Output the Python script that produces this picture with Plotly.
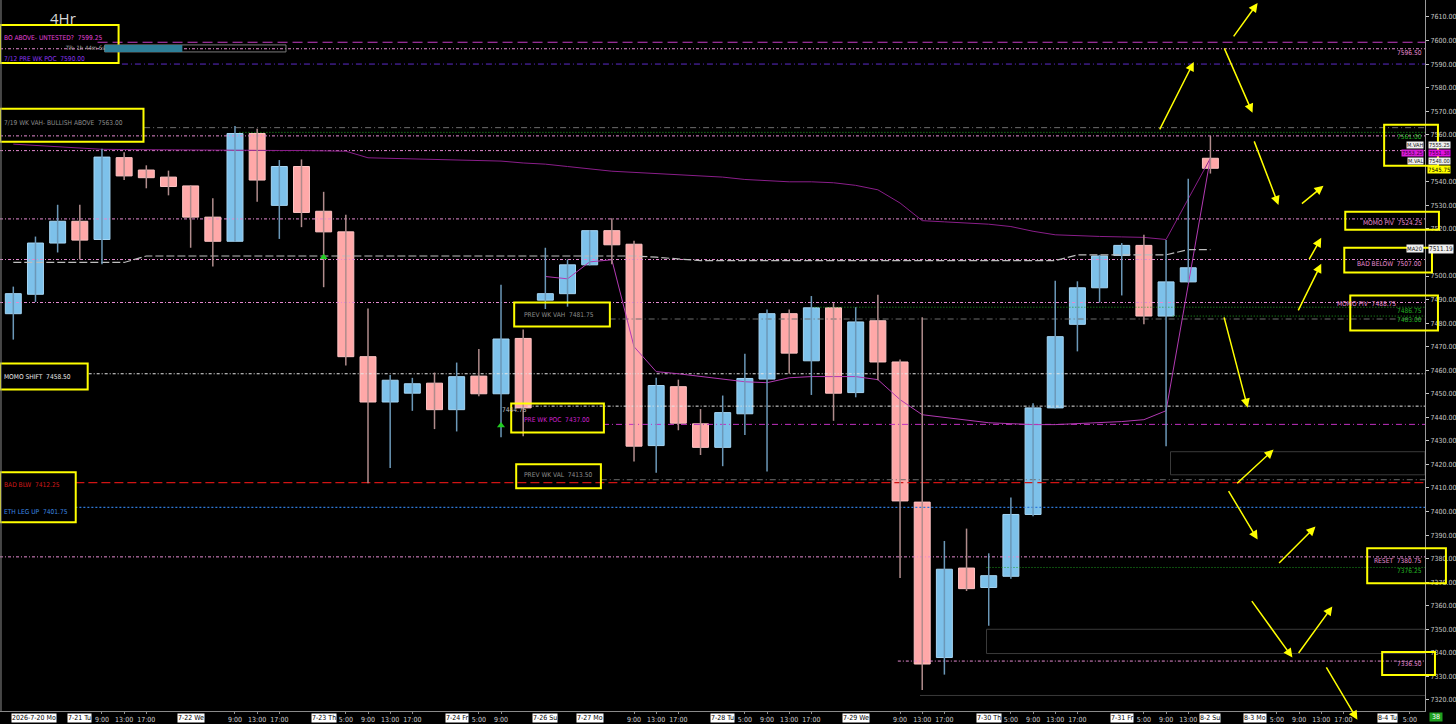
import plotly.graph_objects as go

# ---------------- DATA ----------------
bar_index = list(range(55))
opens = [7484, 7492.25, 7514, 7523.25, 7515.5, 7550.25, 7545, 7542, 7538.25, 7525,
         7514.75, 7560.5, 7530, 7546.5, 7527.5, 7518.75, 7465.75, 7446.5, 7450.25, 7454.5,
         7443.25, 7457.5, 7450, 7473.5, 7489.75, 7492.5, 7504.75, 7519.25, 7513.5, 7428,
         7453, 7437.25, 7427.25, 7441.5, 7456.25, 7484, 7464, 7486.5, 7450.5, 7481,
         7463.5, 7404, 7338, 7376, 7367.75, 7372.5, 7398.75, 7444, 7479.5, 7495,
         7508.75, 7513, 7483, 7497.5, 7550]
highs = [7495.5, 7516.75, 7530.25, 7530.25, 7554, 7552.5, 7547, 7544.75, 7538.5, 7533,
         7563.75, 7562.5, 7549.25, 7549.5, 7535.75, 7526, 7486.25, 7458, 7456.75, 7459,
         7463.25, 7469, 7496.25, 7477.25, 7512, 7507, 7519.5, 7524.5, 7515, 7456.75,
         7456, 7443.5, 7449.25, 7467, 7485.75, 7485.75, 7491.5, 7488.5, 7486.75, 7492,
         7464.5, 7482.5, 7387.5, 7392.75, 7382.25, 7406, 7446, 7498, 7497.75, 7509,
         7514, 7517.5, 7515.25, 7541.25, 7559.5]
lows = [7473, 7489, 7510, 7507, 7505, 7540.75, 7537.25, 7534.25, 7512, 7504,
        7514.5, 7531.5, 7515.75, 7520.75, 7495.25, 7462, 7412, 7418.5, 7442.75, 7435,
        7434, 7449, 7431.5, 7432, 7486, 7487, 7504.5, 7505, 7421.25, 7416.5,
        7434.5, 7424, 7419.25, 7432.5, 7417, 7458.5, 7449.5, 7438.5, 7448.5, 7455.75,
        7371.75, 7324.25, 7330.75, 7366.25, 7351.5, 7371.5, 7398, 7443.75, 7468, 7488.75,
        7491.75, 7479.5, 7427.75, 7497.25, 7543.5]
closes = [7492.5, 7514, 7523.25, 7515.25, 7550.5, 7542.5, 7541.75, 7538, 7525, 7514.75,
          7560.5, 7540.75, 7546.5, 7527, 7518.75, 7465.75, 7446.5, 7455.75, 7454.25, 7443.25,
          7457.25, 7450, 7473.25, 7444, 7492.5, 7504.75, 7519.25, 7513.25, 7427.75, 7453.5,
          7437.5, 7427.25, 7442, 7456.5, 7484, 7467.25, 7486.5, 7450.25, 7480.5, 7463.5,
          7404.5, 7335.25, 7375.5, 7367.25, 7372.75, 7398.75, 7444, 7474.25, 7495, 7508.5,
          7513, 7483, 7497.5, 7503.5, 7545.75]

# developing value line (white dashed)
vwap_line = [7505.75] * 6 + [7508.5] * 23 + [7508, 7507.25] + [7506.5] * 17 + [7509] * 5 + [7511.19, 7511.19]

# weekly band lines (purple)
band_upper = [7556, 7555.5, 7555, 7554.3, 7553.8, 7553.7, 7553.6, 7553.6, 7553.5, 7553.5,
              7553.4, 7553.4, 7553.3, 7553.3, 7553.2, 7553, 7550.2, 7550, 7549.8, 7549.6,
              7549.5, 7549.3, 7548.8, 7548, 7547.5, 7546.5, 7545.5, 7544.5, 7544, 7543.5,
              7543, 7542.5, 7542, 7541, 7540.5, 7540, 7540, 7539.6, 7538.5, 7536.6,
              7531, 7523.5, 7523, 7522.5, 7522, 7521, 7519, 7517.5, 7517, 7516.8,
              7516.6, 7516.4, 7515.5, 7533, 7550]
band_lower = [None] * 24 + [7499.8, 7498.8, 7506, 7506.9, 7470, 7459.4, 7458.5, 7457.3, 7456, 7455.1,
                            7454.7, 7456.8, 7457.3, 7457.3, 7457.3, 7456, 7447.5, 7441.1, 7439.9, 7438.6,
                            7437.7, 7437.3, 7436.9, 7436.9, 7437.3, 7437.7, 7438.2, 7439, 7442.8, 7496.3,
                            7550.2]

signal_x = [14, 22]
signal_y = [7508, 7436.5]

# horizontal levels: price, first bar index where the line starts
level_prices = [7599.25, 7596.50, 7590.00, 7563.00, 7561.00, 7559.50, 7553.25, 7524.25, 7507.00,
                7488.75, 7486.75, 7483.00, 7481.75, 7458.50, 7444.75, 7437.00, 7413.50, 7412.25,
                7401.75, 7380.75, 7376.25, 7336.50, 7321.90]
level_start = [3.8, -0.6, 4.9, 5.9, 10.2, -0.6, -0.6, -0.6, -0.6,
               -0.6, 36.0, 52.3, 26.9, 3.4, 23.2, 26.6, 26.5, 2.8,
               2.8, -0.6, 43.9, 39.9, 40.9]
level_kind = ['mag', 'pink', 'purple', 'gray', 'green', 'pink', 'pink', 'pink', 'pink',
              'pink', 'green', 'green', 'gray', 'white', 'white', 'mag2', 'gray', 'red',
              'blue', 'pink', 'green', 'pink', 'dark']

zone_start = [52.2, 43.9]
zone_low = [7415.6, 7339.7]
zone_high = [7425.4, 7350.0]

time_ticks = [4, 5, 6, 10, 11, 12, 15, 16, 17, 18, 21, 22, 28, 29, 30, 33, 34, 35, 36,
              40, 41, 42, 45, 46, 47, 48, 51, 52, 53, 57, 58, 59, 60, 63]
time_labels = ['9:00', '13:00', '17:00', '9:00', '13:00', '17:00', '5:00', '9:00', '13:00', '17:00',
               '5:00', '9:00', '9:00', '13:00', '17:00', '5:00', '9:00', '13:00', '17:00',
               '9:00', '13:00', '17:00', '5:00', '9:00', '13:00', '17:00', '5:00', '9:00', '13:00',
               '5:00', '9:00', '13:00', '17:00', '5:00']
date_ticks = [0.95, 3, 8, 14, 20, 24, 26, 32, 38, 44, 50, 54, 56, 62]
date_labels = ['2026-7-20 Mo', '7-21 Tu', '7-22 We', '7-23 Th', '7-24 Fr', '7-26 Su', '7-27 Mo',
               '7-28 Tu', '7-29 We', '7-30 Th', '7-31 Fr', '8-2 Su', '8-3 Mo', '8-4 Tu']

# price scale (7510 and 7550 are covered by price boxes in the original)
price_ticks = [v for v in range(7320, 7620, 10) if v not in (7510, 7550)]

# drawn projection arrows: tail (bar, price) -> head (bar, price)
arrow_tail_x = [55.0, 54.6, 51.68, 55.95, 58.06, 58.42, 57.93, 54.6, 55.14, 54.78, 57.03, 55.82, 57.93, 59.19]
arrow_tail_y = [7601.1, 7597.3, 7561.6, 7557.8, 7530.2, 7506.5, 7484.8, 7483.1, 7411.4, 7409.3, 7377.5, 7362.6, 7339.3, 7334.5]
arrow_head_x = [56.13, 55.9, 53.25, 57.07, 59.1, 59.0, 59.0, 55.68, 56.85, 56.13, 58.74, 57.7, 59.5, 60.63]
arrow_head_y = [7615.9, 7569.3, 7590.9, 7530.2, 7538.3, 7516.2, 7505.2, 7444.1, 7426.3, 7388.1, 7393.6, 7338.0, 7359.7, 7311.6]

# ---------------- STYLE ----------------
W, H = 1456, 724
ML, MR, MT, MB = 0, 26, 0, 12
PW, PH = W - ML - MR, H - MT - MB
X0, X1 = -0.6, 63.68
Y0, Y1 = 7315.3, 7617.2
FONT = "Liberation Sans Narrow, DejaVu Sans Condensed, Liberation Sans, sans-serif"
LS = 6.6

PINK = '#E58AD0'
styles = {
    'mag':    dict(color='#C43CC4', width=1.2, dash='10px,5px'),
    'pink':   dict(color=PINK, width=1, dash='3px,2px,1px,2px'),
    'purple': dict(color='#5B2BC8', width=1, dash='6px,3px,1px,3px'),
    'gray':   dict(color='#6E6E6E', width=1, dash='6px,3px,1px,3px'),
    'green':  dict(color='#1FA01F', width=1, dash='1px,2px'),
    'white':  dict(color='#E6E6E6', width=1, dash='3px,2px,1px,2px'),
    'mag2':   dict(color='#C030C0', width=1, dash='6px,3px,1px,3px'),
    'red':    dict(color='#D01414', width=1.2, dash='9px,4px'),
    'blue':   dict(color='#2E78D8', width=1.2, dash='2px,2px'),
    'dark':   dict(color='#3A3A3A', width=1, dash='solid'),
}


def px_x(x):
    return x / PW


def px_y(y):
    return 1 - y / PH


fig = go.Figure()

# level lines
for p, s, k in zip(level_prices, level_start, level_kind):
    fig.add_trace(go.Scatter(x=[s, X1], y=[p, p], mode='lines', line=styles[k],
                             hoverinfo='skip', showlegend=False))

# zones
shapes = []
for s, lo, hi in zip(zone_start, zone_low, zone_high):
    shapes.append(dict(type='rect', xref='x', yref='y', x0=s, x1=X1, y0=lo, y1=hi,
                       line=dict(color='#3A3A3A', width=1), fillcolor='rgba(0,0,0,0)', layer='below'))

# purple bands
fig.add_trace(go.Scatter(x=bar_index, y=band_upper, mode='lines',
                         line=dict(color='#8A1E8A', width=1), hoverinfo='skip', showlegend=False))
fig.add_trace(go.Scatter(x=bar_index, y=band_lower, mode='lines',
                         line=dict(color='#B23AB2', width=1), hoverinfo='skip', showlegend=False,
                         connectgaps=False))
# value line
fig.add_trace(go.Scatter(x=bar_index, y=vwap_line, mode='lines',
                         line=dict(color='#BDBDBD', width=1.2, dash='8px,3px'),
                         hoverinfo='skip', showlegend=False))

# wicks
for up in (True, False):
    wx, wy = [], []
    for i, o, h, l, c in zip(bar_index, opens, highs, lows, closes):
        if (c >= o) == up:
            wx += [i, i, None]
            wy += [l, h, None]
    fig.add_trace(go.Scatter(x=wx, y=wy, mode='lines',
                             line=dict(color='#6B98B8' if up else '#B08C8C', width=1.5),
                             hoverinfo='skip', showlegend=False))

# bodies
for up in (True, False):
    bx, bh, bb = [], [], []
    for i, o, c in zip(bar_index, opens, closes):
        if (c >= o) == up:
            bx.append(i)
            bh.append(abs(c - o))
            bb.append(min(o, c))
    fig.add_trace(go.Bar(x=bx, y=bh, base=bb, width=0.72,
                         marker=dict(color='#7DC1EA' if up else '#FFA8A8',
                                     line=dict(color='#A6D6F4' if up else '#FFC4C4', width=1)),
                         hoverinfo='skip', showlegend=False))

# signals
fig.add_trace(go.Scatter(x=signal_x, y=signal_y, mode='markers',
                         marker=dict(symbol='triangle-up', size=7, color='#22CC22'),
                         hoverinfo='skip', showlegend=False))

ann = []


def txt(text, x, y, color, anchor='left', size=LS, bg=None, fcolor=None, xref='paper', shift=0):
    d = dict(text=text, x=x, y=y, xref=xref, yref='paper', showarrow=False,
             xanchor=anchor, yanchor='middle', xshift=shift,
             font=dict(family=FONT, size=size, color=fcolor or color))
    if bg:
        d['bgcolor'] = bg
        d['borderpad'] = 0
    ann.append(d)


# left labels
txt('BO ABOVE- UNTESTED?  7599.25', px_x(2), px_y(37.7), '#E040D8')
txt('TR: 1h 44m 6s', px_x(63), px_y(48), '#A8A8A8', size=6)
txt('7/12 PRE WK POC  7590.00', px_x(2), px_y(59), '#8A34F0')
txt('7/19 WK VAH- BULLISH ABOVE  7563.00', px_x(2), px_y(123), '#8C8C8C')
txt('MOMO SHIFT  7458.50', px_x(2), px_y(378), '#E8E8E8')
txt('BAD BLW  7412.25', px_x(2), px_y(486), '#D01818')
txt('ETH LEG UP  7401.75', px_x(2), px_y(512.7), '#3A86E0')
txt('PREV WK VAH  7481.75', px_x(524), px_y(315.3), '#8C8C8C')
txt('7444.75', px_x(502), px_y(410.7), '#C0C0C0')
txt('PRE WK POC  7437.00', px_x(524), px_y(420.7), '#D020D0')
txt('PREV WK VAL  7413.50', px_x(524), px_y(476), '#8C8C8C')

# right labels
R = px_x(1429)
txt('7596.50', R, px_y(53.3), PINK, 'right')
txt('7561.00', R, px_y(136.7), '#22B022', 'right')
txt('M.VAH', R, px_y(145.5), '#FFFFFF', 'right', 5.6, '#F0F0F0', '#202020')
txt('7553.25', R, px_y(153.5), '#D81BD8', 'right', 5.6, '#D81BD8', '#300030')
txt('M.VAL', R, px_y(161.5), '#FFFFFF', 'right', 5.6, '#F0F0F0', '#202020')
txt('MOMO PIV  7524.25', R, px_y(223.3), PINK, 'right')
txt('MA20', R, px_y(249), '#FFFFFF', 'right', 6, '#F0F0F0', '#202020')
txt('BAD BELOW  7507.00', R, px_y(264.3), PINK, 'right')
txt('MOMO PIV  7488.75', px_x(1403), px_y(304.5), PINK, 'right')
txt('7486.75', R, px_y(311.7), '#22B022', 'right')
txt('7483.00', R, px_y(320.7), '#22B022', 'right')
txt('RESET  7380.75', R, px_y(561.7), PINK, 'right')
txt('7376.25', R, px_y(571.7), '#22B022', 'right')
txt('7336.50', R, px_y(665), PINK, 'right')

# axis-side price boxes
txt('7555.25', 1, px_y(145.5), '#000', 'left', 5.6, '#F0F0F0', '#202020', shift=3)
txt('7551.38', 1, px_y(153.5), '#000', 'left', 5.6, '#E010E0', '#300030', shift=3)
txt('7548.00', 1, px_y(161.5), '#000', 'left', 5.6, '#F0F0F0', '#202020', shift=3)
txt('7545.75', 1, px_y(169.5), '#000', 'left', 6, '#FFFF00', '#000000', shift=2)
txt('7511.19', 1, px_y(249.5), '#000', 'left', 6.4, '#F0F0F0', '#202020', shift=3)

# title + countdown
ann.append(dict(text='4Hr', x=px_x(48), y=px_y(18), xref='paper', yref='paper', showarrow=False,
                xanchor='left', yanchor='middle', font=dict(family='Open Sans, Liberation Sans', size=15, color='#D8D8D8')))
ann.append(dict(text=' 38 ', x=1, y=0, xref='paper', yref='paper', showarrow=False, xanchor='left',
                yanchor='top', xshift=4, yshift=-1, bgcolor='#1FA01F', borderpad=0,
                font=dict(family=FONT, size=7, color='#FFFFFF')))

# date labels (white boxes)
for xv, t in zip(date_ticks, date_labels):
    ann.append(dict(text=t, x=xv, y=0, xref='x', yref='paper', showarrow=False, xanchor='center',
                    yanchor='top', yshift=-2, bgcolor='#FFFFFF', borderpad=0,
                    font=dict(family=FONT, size=7, color='#000000')))

# arrows
for tx, ty, hx, hy in zip(arrow_tail_x, arrow_tail_y, arrow_head_x, arrow_head_y):
    ann.append(dict(x=hx, y=hy, ax=tx, ay=ty, xref='x', yref='y', axref='x', ayref='y',
                    text='', showarrow=True, arrowhead=2, arrowsize=1.2, arrowwidth=1.5,
                    arrowcolor='#FFFF00'))

# yellow highlight boxes (pixel rectangles)
boxes = [(0, 25, 119, 63), (0, 109, 144, 142), (0, 364, 88, 390), (0, 473, 76, 523),
         (516, 303, 612, 327), (513, 404, 606, 433), (518, 465, 603, 489),
         (1389, 125, 1443, 166), (1350, 212, 1444, 230), (1349, 248, 1437, 273),
         (1355, 296, 1443, 331), (1372, 549, 1451, 584), (1387, 653, 1440, 676)]
for x0, y0, x1, y1 in boxes:
    shapes.append(dict(type='rect', xref='paper', yref='paper', x0=px_x(x0), x1=px_x(x1),
                       y0=px_y(y1), y1=px_y(y0), line=dict(color='#FFFF00', width=2)))

# countdown bar
shapes.append(dict(type='rect', xref='paper', yref='paper', x0=px_x(105), x1=px_x(287),
                   y0=px_y(52), y1=px_y(45), line=dict(color='#7A7A7A', width=1)))
shapes.append(dict(type='rect', xref='paper', yref='paper', x0=px_x(105), x1=px_x(183),
                   y0=px_y(52), y1=px_y(45), line=dict(width=0), fillcolor='#2E7F98'))
# left border
shapes.append(dict(type='line', xref='paper', yref='paper', x0=0.0007, x1=0.0007, y0=0, y1=1,
                   line=dict(color='#8A8A8A', width=1)))

fig.update_layout(
    width=W, height=H, margin=dict(l=ML, r=MR, t=MT, b=MB),
    paper_bgcolor='#000000', plot_bgcolor='#000000',
    barmode='overlay', showlegend=False,
    shapes=shapes, annotations=ann,
    xaxis=dict(range=[X0, X1], showgrid=False, zeroline=False, showline=True, linecolor='#8A8A8A',
               tickmode='array', tickvals=time_ticks, ticktext=time_labels,
               tickfont=dict(family=FONT, size=7, color='#D0D0D0'), ticks='outside', ticklen=2,
               tickcolor='#8A8A8A'),
    yaxis=dict(range=[Y0, Y1], side='right', showgrid=False, zeroline=False, showline=True,
               linecolor='#9A9A9A', tickmode='array', tickvals=price_ticks,
               ticktext=[f'{v:.2f}' for v in price_ticks],
               tickfont=dict(family=FONT, size=7, color='#C8C8C8'), ticks='outside', ticklen=3,
               tickcolor='#C8C8C8'),
)

fig.write_html("out.html", config={'displayModeBar': False},
               post_script="document.body.style.margin='0px';document.body.style.overflow='hidden';")
